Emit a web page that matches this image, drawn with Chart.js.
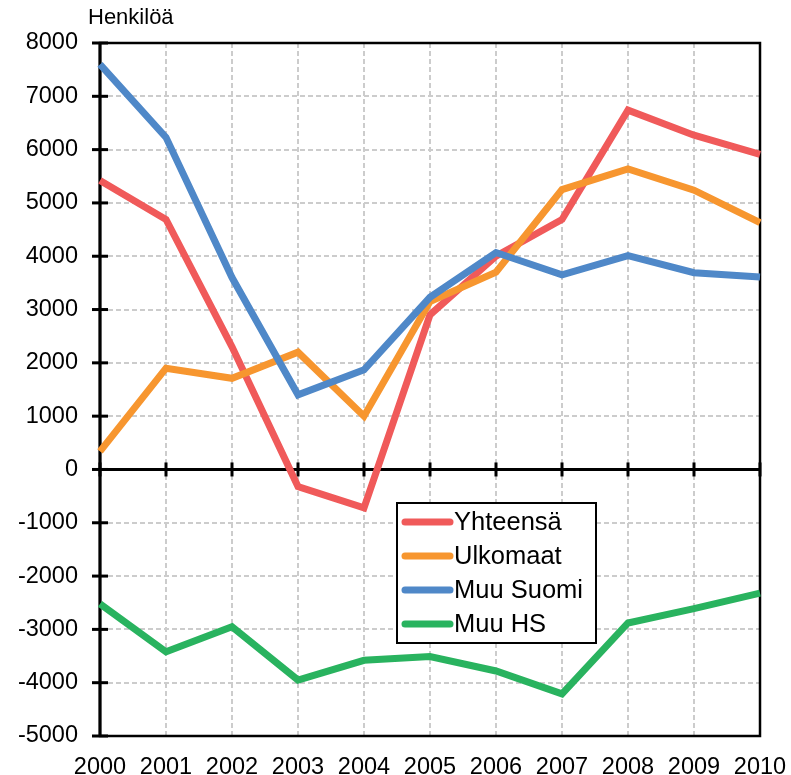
<!DOCTYPE html>
<html>
<head>
<meta charset="utf-8">
<script src="https://cdn.jsdelivr.net/npm/chart.js@4"></script>
<style>
  body { margin: 0; background: #fff; }
  #wrap { width: 791px; height: 775px; }
</style>
</head>
<body>
<div id="wrap"><canvas id="chart" width="791" height="775"></canvas></div>
<script>
// Data
const years = ['2000', '2001', '2002', '2003', '2004', '2005', '2006', '2007', '2008', '2009', '2010'];
const yhteensa = [5420, 4690, 2300, -320, -720, 2900, 4000, 4690, 6740, 6270, 5910];
const ulkomaat = [340, 1900, 1710, 2200, 1000, 3150, 3700, 5250, 5640, 5240, 4630];
const muuSuomi = [7600, 6230, 3600, 1400, 1870, 3230, 4070, 3650, 4010, 3690, 3610];
const muuHS = [-2520, -3420, -2950, -3950, -3580, -3510, -3780, -4210, -2880, -2610, -2320];

const seriesNames = ['Yhteensä', 'Ulkomaat', 'Muu Suomi', 'Muu HS'];
const seriesColors = ['#F05A5A', '#F7962F', '#4F88C8', '#29B35F'];
const yTitle = 'Henkilöä';

const FONT = '"Liberation Sans", Arial, sans-serif';

// Frame, zero line and tick marks (under the lines)
const framePlugin = {
  id: 'frame',
  beforeDatasetsDraw(chart) {
    const { ctx, chartArea: a, scales: { x, y } } = chart;
    ctx.save();
    ctx.strokeStyle = '#000';
    // box
    ctx.lineWidth = 2.5;
    ctx.strokeRect(a.left, a.top, a.right - a.left, a.bottom - a.top);
    // left axis
    ctx.lineWidth = 3;
    ctx.beginPath();
    ctx.moveTo(a.left, a.top);
    ctx.lineTo(a.left, a.bottom);
    ctx.stroke();
    // y ticks crossing the axis
    y.ticks.forEach(t => {
      const py = y.getPixelForValue(t.value);
      ctx.beginPath();
      ctx.moveTo(a.left - 8, py);
      ctx.lineTo(a.left + 8, py);
      ctx.stroke();
    });
    // zero line
    const y0 = y.getPixelForValue(0);
    ctx.beginPath();
    ctx.moveTo(a.left, y0);
    ctx.lineTo(a.right, y0);
    ctx.stroke();
    // x ticks crossing the zero line
    years.forEach((_, i) => {
      const px = x.getPixelForValue(i);
      ctx.beginPath();
      ctx.moveTo(px, y0 - 7);
      ctx.lineTo(px, y0 + 7);
      ctx.stroke();
    });
    ctx.restore();
  },
  afterDraw(chart) {
    const { ctx } = chart;
    ctx.save();
    // axis title
    ctx.fillStyle = '#000';
    ctx.font = '22px ' + FONT;
    ctx.textBaseline = 'alphabetic';
    ctx.textAlign = 'left';
    ctx.fillText(yTitle, 88, 24);

    // legend box
    const bx = 397, by = 503, bw = 199, bh = 140;
    ctx.fillStyle = '#fff';
    ctx.fillRect(bx, by, bw, bh);
    ctx.strokeStyle = '#000';
    ctx.lineWidth = 2;
    ctx.strokeRect(bx, by, bw, bh);
    ctx.font = '25.5px ' + FONT;
    ctx.textBaseline = 'middle';
    chart.data.datasets.forEach((ds, i) => {
      const cy = 522 + i * 34;
      ctx.strokeStyle = ds.borderColor;
      ctx.lineWidth = 7;
      ctx.lineCap = 'round';
      ctx.beginPath();
      ctx.moveTo(405, cy);
      ctx.lineTo(450, cy);
      ctx.stroke();
      ctx.fillStyle = '#000';
      ctx.fillText(ds.label, 454, cy + 1);
    });
    ctx.restore();
  }
};

const allSeries = [yhteensa, ulkomaat, muuSuomi, muuHS];

new Chart(document.getElementById('chart'), {
  type: 'line',
  data: {
    labels: years,
    datasets: allSeries.map((vals, i) => ({
      label: seriesNames[i],
      data: vals,
      borderColor: seriesColors[i],
      backgroundColor: seriesColors[i],
      borderWidth: 7,
      pointRadius: 0,
      tension: 0,
      fill: false,
      order: allSeries.length - i
    }))
  },
  options: {
    responsive: false,
    animation: false,
    layout: { padding: { top: 43, right: 31, left: 0, bottom: 0 } },
    plugins: {
      legend: { display: false },
      tooltip: { enabled: false }
    },
    scales: {
      x: {
        offset: false,
        grid: { color: '#cccccc', lineWidth: 2, drawTicks: false },
        border: { display: false, dash: [5, 3] },
        ticks: { color: '#000', font: { family: FONT, size: 23.5 }, padding: 17, maxRotation: 0, autoSkip: false },
        afterFit(scale) {
          scale.height = 39;
          scale.paddingLeft = 0;
          scale.paddingRight = 0;
        }
      },
      y: {
        min: -5000,
        max: 8000,
        grid: { color: ctx => ctx.tick && ctx.tick.value === 0 ? 'rgba(0,0,0,0)' : '#cccccc', lineWidth: 2, drawTicks: false },
        border: { display: false, dash: [5, 3] },
        ticks: { stepSize: 1000, color: '#000', font: { family: FONT, size: 23.5 }, padding: 22, callback: v => String(v) },
        afterFit(scale) {
          scale.width = 100;
          scale.paddingTop = 0;
          scale.paddingBottom = 0;
        }
      }
    }
  },
  plugins: [framePlugin]
});
</script>
</body>
</html>
